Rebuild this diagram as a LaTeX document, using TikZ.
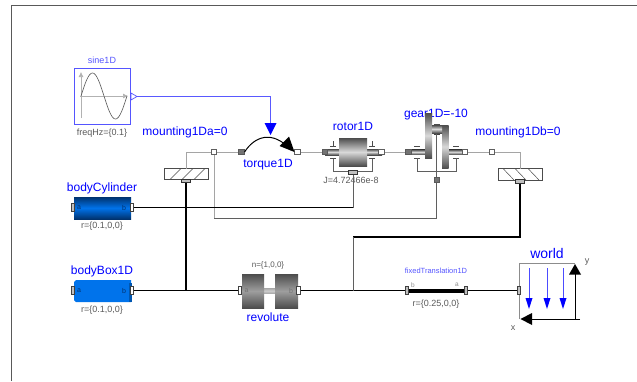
\documentclass[tikz,border=0pt]{standalone}
\usepackage{fontspec}
\setmainfont{Liberation Sans}
\usepackage{xcolor}
\usetikzlibrary{arrows.meta, calc}
\definecolor{modelblue}{RGB}{0,0,255}
\definecolor{sineblue}{RGB}{85,85,255}
\definecolor{mutedtext}{RGB}{90,90,90}
\definecolor{flange}{RGB}{165,165,165}
\definecolor{support}{RGB}{95,95,95}
\definecolor{bodydark}{RGB}{0,50,110}
\definecolor{bodymid}{RGB}{0,115,235}
\tikzset{
  whiteport/.style={draw=support, fill=white, line width=0.7pt, minimum size=5.5pt, inner sep=0pt},
  greyport/.style={draw=black!65, fill=black!55, line width=0.7pt, minimum size=5.5pt, inner sep=0pt},
  framein/.style={draw=black!75, fill=black!25, line width=0.8pt, minimum width=3.5pt, minimum height=8.5pt, inner sep=0pt},
  frameout/.style={draw=black!75, fill=white, line width=0.8pt, minimum width=3.5pt, minimum height=8.5pt, inner sep=0pt},
  supportport/.style={draw=black!80, fill=black!25, line width=0.8pt, minimum width=9pt, minimum height=3.5pt, inner sep=0pt},
  blueLabel/.style={text=modelblue, font=\fontsize{12}{12}\selectfont, inner sep=0pt},
  greyLabel/.style={text=mutedtext, font=\fontsize{9}{9}\selectfont, inner sep=0pt},
  flangeLine/.style={draw=flange, line width=1pt},
  supportLine/.style={draw=support, line width=1pt},
  frameLine/.style={draw=black, line width=1.1pt},
  cyl/.style={top color=black!70, bottom color=black!70, middle color=black!15},
}
\begin{document}
\begin{tikzpicture}[x=1pt, y=-1pt]
  \useasboundingbox (0,0) rectangle (637,381);
  \fill[white] (0,0) rectangle (637,381);
  \draw[black!65, line width=1pt] (11,381) -- (11,5.5) -- (637,5.5);

  % sine source
  \draw[sineblue, line width=0.9pt] (74.5,68.5) rectangle (130.5,124);
  \draw[black!30, line width=0.6pt, -{Latex[length=5pt,width=5pt]}] (81,118) -- (81,72);
  \draw[black!30, line width=0.6pt, -{Latex[length=5pt,width=5pt]}] (80,96) -- (128,96);
  \draw[black!65, line width=0.6pt, domain=0:1, samples=50, smooth] plot ({81+46*\x},{96-23*sin(360*\x)});
  \node[text=sineblue, font=\fontsize{9}{9}\selectfont, inner sep=0pt] (sineName) at (102,60) {sine1D};
  \node[greyLabel] (sineFreq) at (102,133) {freqHz=\{0.1\}};
  \draw[sineblue, fill=white, line width=0.7pt] (131,93) -- (137,96.5) -- (131,100) -- cycle;
  \coordinate (sineOut) at (137,96.5);
  \coordinate (torqueIn) at (270.5,123);
  \draw[modelblue!65, line width=0.9pt] (sineOut) -| (torqueIn);
  \fill[modelblue] (264.5,123) -- (276.5,123) -- (270.5,135) -- cycle;

  % labels, below the parts
  \node[blueLabel] (mountAName) at (185,132) {mounting1Da=0};
  \node[blueLabel] (mountBName) at (518,132) {mounting1Db=0};
  \node[blueLabel] (torqueName) at (268,165) {torque1D};
  \node[blueLabel] (rotorName) at (353,126) {rotor1D};
  \node[blueLabel] (gearName) at (436,115) {gear1D=-10};
  \node[blueLabel] (cylName) at (102,188) {bodyCylinder};
  \node[blueLabel] (boxName) at (102,271) {bodyBox1D};
  \node[blueLabel] (revName) at (268,317) {revolute};
  \node[blueLabel, font=\fontsize{14}{14}\selectfont] (worldName) at (547,253) {world};
  \node[text=sineblue, font=\fontsize{7.5}{7.5}\selectfont, inner sep=0pt] (transName) at (436,271) {fixedTranslation1D};
  \node[greyLabel] (rotorJ) at (351,180) {J=4.72466e-8};
  \node[greyLabel] (cylR) at (102,226) {r=\{0.1,0,0\}};
  \node[greyLabel] (boxR) at (102,310) {r=\{0.1,0,0\}};
  \node[greyLabel, font=\fontsize{8}{8}\selectfont] (revN) at (268,265.5) {n=\{1,0,0\}};
  \node[greyLabel] (transR) at (436,304.5) {r=\{0.25,0,0\}};
  \node[greyLabel] (worldY) at (587,262) {y};
  \node[greyLabel] (worldX) at (513,328) {x};

  % mountings
  \draw[black!70, line width=0.7pt] (164,168.5) rectangle (208.5,179.5);
  \foreach \h in {170,182,194} {
    \draw[black!70, line width=0.5pt] (\h,179.5) -- (\h+11,168.5);
  }
  \draw[black!70, line width=0.7pt] (498,168.5) rectangle (542.5,180);
  \foreach \h in {503,515,528} {
    \draw[black!70, line width=0.5pt] (\h,168.5) -- (\h+11,180);
  }
  \node[supportport] (mountASup) at (186,181) {};
  \node[supportport] (mountBSup) at (520,181.5) {};
  \node[whiteport] (mountAFl) at (214,152) {};
  \node[whiteport] (mountBFl) at (492,152) {};

  % rotor
  \shade[cyl] (325,149) rectangle (382,155);
  \shade[cyl] (339,138) rectangle (367,166);
  \foreach \h in {333,372} {
    \draw[black!70, line width=0.5pt] (\h-3,146) -- (\h+3,146) (\h,146) -- (\h,141);
    \draw[black!70, line width=0.5pt] (\h-3,158.5) -- (\h+3,158.5);
  }
  \draw[support, line width=0.8pt] (333,158.5) -- (333,171) -- (372,171) -- (372,158.5);
  \node[greyport] (rotorA) at (325,152) {};
  \node[whiteport] (rotorB) at (381.5,152) {};
  \node[supportport] (rotorSup) at (353,172.5) {};

  % gear
  \shade[cyl] (407,149.5) rectangle (425,154.5);
  \shade[cyl] (448,149.5) rectangle (465,154.5);
  \shade[cyl] (425,113) rectangle (432,158);
  \shade[cyl] (442,125) rectangle (448.5,168.5);
  \shade[cyl] (432,125) rectangle (442,133);
  \foreach \h in {417,456} {
    \draw[black!70, line width=0.5pt] (\h-3,146) -- (\h+3,146);
    \draw[black!70, line width=0.5pt] (\h-3,158) -- (\h+3,158);
  }
  \draw[black!70, line width=0.5pt] (433.5,124) -- (440,124);
  \draw[support, line width=0.8pt] (417,158) -- (417,171) -- (456,171) -- (456,158);
  \draw[black!75, line width=0.6pt] (433.5,134) -- (440,134);
  \node[greyport] (gearA) at (408.5,152) {};
  \node[whiteport] (gearB) at (465,152) {};
  \node[greyport] (gearSup) at (436.7,180) {};
  \draw[supportLine] (436.7,134) -- (gearSup);

  % torque
  \node[greyport] (torqueA) at (241.5,152) {};
  \node[whiteport] (torqueB) at (297.5,152) {};
  \draw[black, line width=1pt] (torqueA.east) .. controls (254,137) and (272,129) .. (291,150);
  \fill[black] (294.5,152) -- (279.5,146) -- (289,136.5) -- cycle;

  % bodies
  \shade[top color=bodydark, bottom color=bodydark, middle color=bodymid] (74,197) rectangle (131,219);
  \fill[bodymid] (76,280) -- (131,280) -- (131,302) -- (76,302) -- (74,300) -- (74,282) -- cycle;
  \fill[bodymid!75!black] (129,283) rectangle (132,302);
  \node[text=bodydark, font=\fontsize{7}{7}\selectfont, inner sep=0pt] (cylA) at (79,207.5) {a};
  \node[text=bodydark, font=\fontsize{7}{7}\selectfont, inner sep=0pt] (cylB) at (124,207.5) {b};
  \node[text=bodydark, font=\fontsize{7}{7}\selectfont, inner sep=0pt] (boxA) at (79,291) {a};
  \node[text=bodydark, font=\fontsize{7}{7}\selectfont, inner sep=0pt] (boxB) at (124,291) {b};
  \node[framein] (cylPa) at (73,207.5) {};
  \node[frameout] (cylPb) at (132,207.5) {};
  \node[framein] (boxPa) at (73,290.5) {};
  \node[frameout] (boxPb) at (132,290.5) {};

  % revolute
  \shade[top color=black!35, bottom color=black!35, middle color=black!20] (264,288) rectangle (275,293.5);
  \shade[top color=black!70, bottom color=black!70, middle color=black!38] (242,274) rectangle (264,308);
  \shade[top color=black!70, bottom color=black!70, middle color=black!38] (275,274) rectangle (298,308);
  \node[text=black!55, font=\fontsize{7}{7}\selectfont, inner sep=0pt] (revA) at (246.5,291) {a};
  \node[text=black!55, font=\fontsize{7}{7}\selectfont, inner sep=0pt] (revB) at (291,291) {b};
  \node[frameout] (revPa) at (240,290.5) {};
  \node[frameout] (revPb) at (298.5,290.5) {};

  % fixed translation
  \node[framein] (transA) at (407,290.5) {};
  \node[framein] (transB) at (466,290.5) {};
  \fill[black] (transA.east |- 0,288.5) rectangle (transB.west |- 0,292.5);
  \node[text=black!45, font=\fontsize{6.5}{6.5}\selectfont, inner sep=0pt] (transLb) at (413,285) {b};
  \node[text=black!45, font=\fontsize{6.5}{6.5}\selectfont, inner sep=0pt] (transLa) at (457,285) {a};

  % world
  \draw[black!45, line width=0.9pt] (519,319) -- (519,263) -- (575,263);
  \foreach \h in {529,547,563} {
    \draw[modelblue!70, line width=0.7pt] (\h,268) -- (\h,298);
    \fill[modelblue] (\h-3.5,298) -- (\h+3.5,298) -- (\h,309) -- cycle;
  }
  \draw[black, line width=1pt] (575,319) -- (575,274);
  \fill[black] (569,274.5) -- (581,274.5) -- (575,264) -- cycle;
  \draw[black, line width=1pt] (580,319) -- (532,319);
  \fill[black] (532,313) -- (532,325) -- (520.5,319) -- cycle;
  \node[framein] (worldP) at (519,290.5) {};

  % connections
  \draw[flangeLine] (186,168.5) |- (mountAFl.west);
  \draw[flangeLine] (mountAFl.east) -- (torqueA.west);
  \draw[flangeLine] (torqueB.east) -- (rotorA.west);
  \draw[flangeLine] (rotorB.east) -- (gearA.west);
  \draw[flangeLine] (gearB.east) -- (mountBFl.west);
  \draw[flangeLine] (mountBFl.east) -| (520,168.5);
  \coordinate (gearLow) at (gearSup |- 0,218);
  \draw[flangeLine] (mountAFl.south) -- (214,218);
  \draw[supportLine] (214,218) -- (gearLow) -- (gearSup.south);
  \draw[frameLine] (mountASup.south) -- (186,290.5);
  \coordinate (rotorLow) at (rotorSup |- 0,207.5);
  \draw[supportLine] (rotorSup.south) -- (rotorLow);
  \draw[frameLine] (cylPb.east) -- (rotorLow);
  \draw[frameLine] (boxPb.east) -- (revPa.west);
  \draw[frameLine] (revPb.east) -- (transA.west);
  \draw[frameLine] (transB.east) -- (worldP.west);
  \coordinate (revLow) at (353,290.5);
  \coordinate (mountLow) at (353,237);
  \draw[frameLine] (mountBSup.south) |- (mountLow);
  \draw[supportLine] (mountLow) -- (revLow);
\end{tikzpicture}
\end{document}
